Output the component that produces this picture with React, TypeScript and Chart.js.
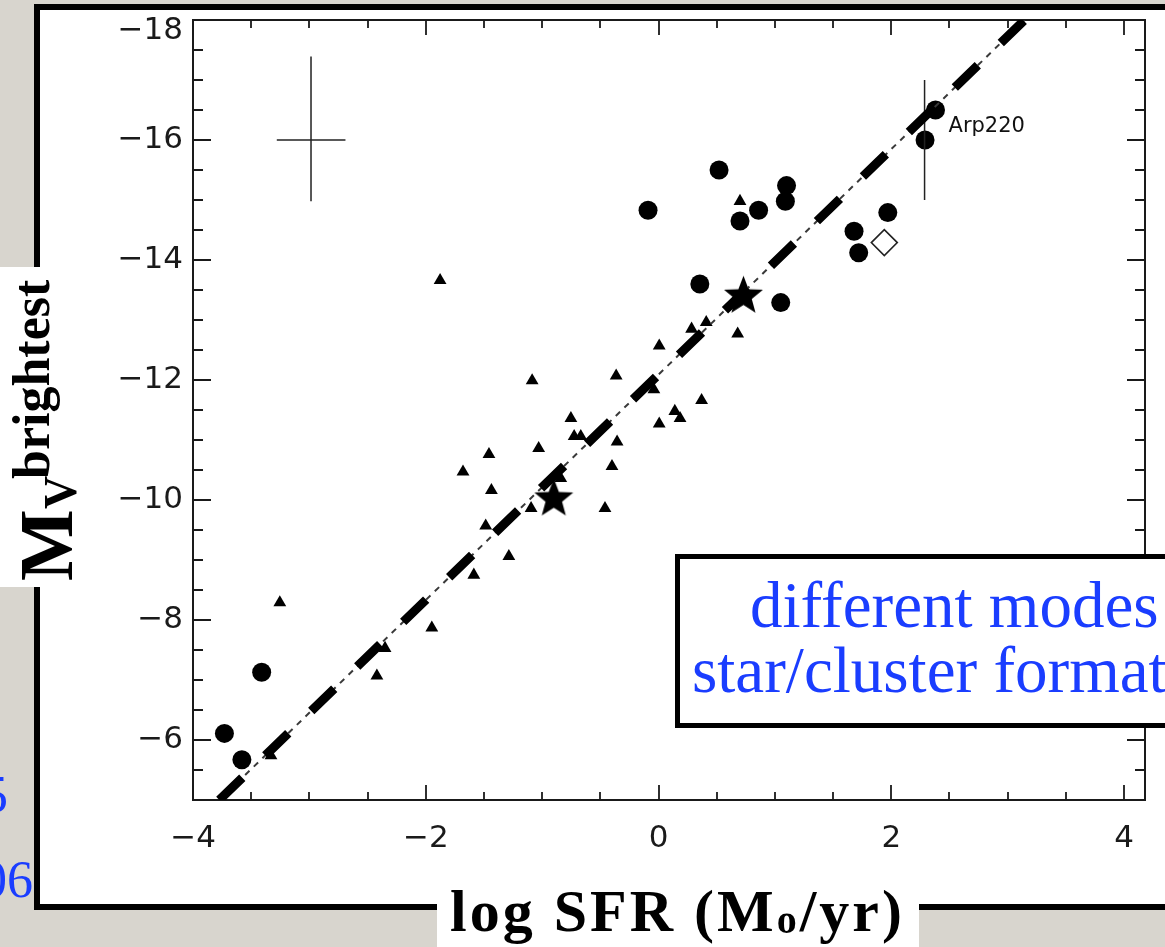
import React, { useEffect, useRef } from 'react';
import { Chart, registerables } from 'chart.js';

Chart.register(...registerables);

// ---------------- data ----------------
const circleX = [0.52, -0.09, 1.10, 1.09, 0.86, 0.70, 2.38, 2.29, 1.97, 1.68, 1.72, 0.355, 1.05, -3.41, -3.73, -3.58];
const circleY = [-15.50, -14.83, -15.24, -14.98, -14.83, -14.65, -16.50, -16.00, -14.79, -14.48, -14.12, -13.60, -13.29, -7.13, -6.11, -5.67];

const triangleX = [0.70, -1.877, 0.284, 0.41, 0.68, 0.006, -0.364, -1.086, -0.04, 0.37, 0.14, 0.185, 0.006, -0.753, -0.725, -0.668, -0.356, -1.03, -1.457, -1.68, -0.40, -1.436, -0.84, -1.095, -0.46, -1.485, -1.286, -1.587, -3.254, -1.948, -2.35, -2.42, -3.33];
const triangleY = [-14.98, -13.66, -12.85, -12.96, -12.77, -12.57, -12.07, -11.99, -11.84, -11.66, -11.48, -11.36, -11.27, -11.36, -11.06, -11.06, -10.97, -10.86, -10.76, -10.47, -10.56, -10.16, -10.36, -9.86, -9.86, -9.57, -9.06, -8.75, -8.29, -7.87, -7.53, -7.07, -5.74];

const starX = [0.73, -0.90];
const starY = [-13.43, -10.05];

const diamondX = [1.94];
const diamondY = [-14.29];

const fitX = [-3.774, 3.145];
const fitY = [-5, -18];

const crossVX = [-2.986, -2.986];
const crossVY = [-17.39, -14.98];
const crossHX = [-3.28, -2.69];
const crossHY = [-16, -16];
const arpErrX = [2.286, 2.286];
const arpErrY = [-17.0, -15.0];

const arpLabel = 'Arp220';
const arpIndex = 6;

const xTickValues = [-4, -2, 0, 2, 4];
const xTickLabels = ['\u22124', '\u22122', '0', '2', '4'];
const yTickValues = [-18, -16, -14, -12, -10, -8, -6];
const yTickLabels = ['\u221218', '\u221216', '\u221214', '\u221212', '\u221210', '\u22128', '\u22126'];

const xMin = -4;
const xMax = 4.18;
const yMin = -18;
const yMax = -5;

// ---------------- helpers ----------------
const pts = (xs: number[], ys: number[]) => xs.map((x, i) => ({ x, y: ys[i] }));

function makeStar(R: number, r: number) {
  const size = Math.ceil(R * 2) + 4;
  const c = document.createElement('canvas');
  c.width = size;
  c.height = size;
  const g = c.getContext('2d')!;
  const cx = size / 2;
  const cy = size / 2 + R * 0.095;
  g.beginPath();
  for (let i = 0; i < 10; i++) {
    const rad = i % 2 === 0 ? R : r;
    const ang = -Math.PI / 2 + (i * Math.PI) / 5;
    const px = cx + rad * Math.cos(ang);
    const py = cy + rad * Math.sin(ang);
    if (i === 0) g.moveTo(px, py);
    else g.lineTo(px, py);
  }
  g.closePath();
  g.fillStyle = '#000';
  g.fill();
  return c;
}

const axisFrame = {
  id: 'axisFrame',
  beforeDatasetsDraw(chart: any) {
    const { ctx, chartArea: a } = chart;
    const xs = chart.scales.x;
    const ys = chart.scales.y;
    ctx.save();
    ctx.strokeStyle = '#1a1a1a';
    ctx.lineWidth = 2;
    ctx.strokeRect(a.left, a.top, a.right - a.left, a.bottom - a.top);
    ctx.lineWidth = 1.8;
    ctx.beginPath();
    for (let k = Math.ceil(xs.min * 2); k <= Math.floor(xs.max * 2 + 1e-9); k++) {
      const len = k % 4 === 0 ? 15 : 8;
      const p = Math.round(xs.getPixelForValue(k / 2));
      ctx.moveTo(p, a.bottom);
      ctx.lineTo(p, a.bottom - len);
      ctx.moveTo(p, a.top);
      ctx.lineTo(p, a.top + len);
    }
    for (let k = Math.ceil(ys.min * 2); k <= Math.floor(ys.max * 2 + 1e-9); k++) {
      const len = k % 4 === 0 ? 18 : 10;
      const p = Math.round(ys.getPixelForValue(k / 2));
      ctx.moveTo(a.left, p);
      ctx.lineTo(a.left + len, p);
      ctx.moveTo(a.right, p);
      ctx.lineTo(a.right - len, p);
    }
    ctx.stroke();
    ctx.restore();
  },
};

const pointLabel = {
  id: 'pointLabel',
  afterDatasetsDraw(chart: any) {
    const idx = chart.data.datasets.findIndex((d: any) => d.label === 'circles');
    const el = chart.getDatasetMeta(idx).data[arpIndex];
    if (!el) return;
    const { ctx } = chart;
    ctx.save();
    ctx.font = '21px "DejaVu Sans"';
    ctx.fillStyle = '#111';
    ctx.textAlign = 'left';
    ctx.textBaseline = 'alphabetic';
    ctx.fillText(arpLabel, el.x + 13, el.y + 22);
    ctx.restore();
  },
};

const zeroPad = (s: any) => {
  s.paddingTop = 0;
  s.paddingBottom = 0;
  s.paddingLeft = 0;
  s.paddingRight = 0;
};

const BLUE = '#1a3dff';
const SERIF = '"Liberation Serif", "Times New Roman", serif';

export default function App() {
  const ref = useRef<HTMLCanvasElement | null>(null);

  useEffect(() => {
    document.body.style.margin = '0';
    const canvas = ref.current;
    if (!canvas) return;
    const star = makeStar(20.5, 8.7);
    const lineBase = { showLine: true, pointRadius: 0, fill: false, borderCapStyle: 'butt' };
    const chart = new Chart(canvas, {
      type: 'scatter',
      data: {
        datasets: [
          { ...lineBase, label: 'fit thick', data: pts(fitX, fitY), borderColor: '#000', borderWidth: 9, borderDash: [32, 32] },
          { ...lineBase, label: 'fit thin', data: pts(fitX, fitY), borderColor: '#3a3a3a', borderWidth: 2, borderDash: [6, 6] },
          { ...lineBase, label: 'err v', data: pts(crossVX, crossVY), borderColor: '#222', borderWidth: 1.5 },
          { ...lineBase, label: 'err h', data: pts(crossHX, crossHY), borderColor: '#222', borderWidth: 1.5 },
          { ...lineBase, label: 'arp err', data: pts(arpErrX, arpErrY), borderColor: '#222', borderWidth: 1.5 },
          { label: 'stars', data: pts(starX, starY), pointStyle: star, pointRadius: 20, backgroundColor: '#000', borderWidth: 0 },
          { label: 'circles', data: pts(circleX, circleY), pointStyle: 'circle', pointRadius: 9.5, backgroundColor: '#000', borderColor: '#000', borderWidth: 0 },
          { label: 'triangles', data: pts(triangleX, triangleY), pointStyle: 'triangle', pointRadius: 7.4, backgroundColor: '#000', borderColor: '#000', borderWidth: 0 },
          { label: 'diamond', data: pts(diamondX, diamondY), pointStyle: 'rectRot', pointRadius: 13, backgroundColor: 'rgba(255,255,255,0)', borderColor: '#222', borderWidth: 1.6 },
        ] as any,
      },
      options: {
        animation: false,
        responsive: false,
        devicePixelRatio: 1,
        events: [],
        layout: { padding: { left: 0, right: 14, top: 15, bottom: 87 } },
        plugins: { legend: { display: false }, tooltip: { enabled: false } },
        scales: {
          x: {
            type: 'linear',
            min: xMin,
            max: xMax,
            afterBuildTicks: (s: any) => { s.ticks = xTickValues.map((value) => ({ value })); },
            afterFit: (s: any) => { s.height = 60; zeroPad(s); },
            grid: { display: false, drawTicks: false },
            border: { display: false },
            ticks: {
              autoSkip: false,
              maxRotation: 0,
              padding: 20,
              color: '#1a1a1a',
              font: { family: '"DejaVu Sans"', size: 31 },
              callback: (_v: any, i: number) => xTickLabels[i],
            },
          },
          y: {
            type: 'linear',
            reverse: true,
            min: yMin,
            max: yMax,
            afterBuildTicks: (s: any) => { s.ticks = yTickValues.map((value) => ({ value })); },
            afterFit: (s: any) => { s.width = 193; zeroPad(s); },
            grid: { display: false, drawTicks: false },
            border: { display: false },
            ticks: {
              autoSkip: false,
              padding: 10,
              color: '#1a1a1a',
              font: { family: '"DejaVu Sans"', size: 31, lineHeight: 0.71 },
              callback: (_v: any, i: number) => (i === 0 ? ['', yTickLabels[i]] : yTickLabels[i]),
            },
          },
        },
      } as any,
      plugins: [axisFrame, pointLabel],
    });
    return () => chart.destroy();
  }, []);

  const abs: React.CSSProperties = { position: 'absolute', whiteSpace: 'nowrap', display: 'block' };

  return (
    <div style={{ position: 'relative', width: 1165, height: 947, overflow: 'hidden', background: '#d8d5ce' }}>
      {/* clipped citation text on the left */}
      <span style={{ ...abs, right: 1157, top: 813 - 0.8375 * 52, fontFamily: SERIF, fontSize: 52, lineHeight: '52px', color: BLUE }}>
        Larsen 2002; Weidner et al. 2005
      </span>
      <span style={{ ...abs, right: 1132, top: 898 - 0.8375 * 52, fontFamily: SERIF, fontSize: 52, lineHeight: '52px', color: BLUE }}>
        Wilson et al. 2006
      </span>

      {/* white slide box */}
      <div style={{ position: 'absolute', left: 34, top: 4, width: 1300, height: 906, border: '6px solid #000', boxSizing: 'border-box', background: '#fff' }} />

      <canvas ref={ref} width={1165} height={947} style={{ position: 'absolute', left: 0, top: 0, width: 1165, height: 947 }} />

      {/* y axis title */}
      <div style={{ position: 'absolute', left: 0, top: 267, width: 80, height: 320, background: '#fff' }} />
      <div
        style={{
          position: 'absolute', left: 0, top: 0, width: 320, height: 90,
          transformOrigin: '0 0', transform: 'translate(0px, 587px) rotate(-90deg)',
          fontFamily: SERIF, fontWeight: 'bold', color: '#000',
        }}
      >
        <span style={{ ...abs, left: 6, top: 72 - 0.8375 * 76, fontSize: 76, lineHeight: '76px' }}>M</span>
        <span style={{ ...abs, left: 78, top: 77 - 0.8375 * 46, fontSize: 46, lineHeight: '46px' }}>V</span>
        <span style={{ ...abs, left: 108, top: 50 - 0.8375 * 52, fontSize: 52, lineHeight: '52px' }}>brightest</span>
      </div>

      {/* x axis title */}
      <div style={{ position: 'absolute', left: 437, top: 880, width: 482, height: 67, background: '#fff' }} />
      <div style={{ ...abs, left: 450, top: 931 - 0.8375 * 60, fontFamily: SERIF, fontWeight: 'bold', fontSize: 60, lineHeight: '60px', letterSpacing: '3px', color: '#000' }}>
        log SFR (M<span style={{ fontSize: 40, verticalAlign: '-2px' }}>o</span>/yr)
      </div>

      {/* annotation box */}
      <div style={{ position: 'absolute', left: 675, top: 554, width: 600, height: 174, border: '5px solid #000', boxSizing: 'border-box', background: '#fff' }} />
      <span style={{ ...abs, left: 750, top: 627 - 0.8375 * 65, fontFamily: SERIF, fontSize: 65, lineHeight: '65px', color: BLUE }}>different modes of</span>
      <span style={{ ...abs, left: 692, top: 692 - 0.8375 * 65, fontFamily: SERIF, fontSize: 65, lineHeight: '65px', color: BLUE }}>star/cluster formation</span>
    </div>
  );
}
